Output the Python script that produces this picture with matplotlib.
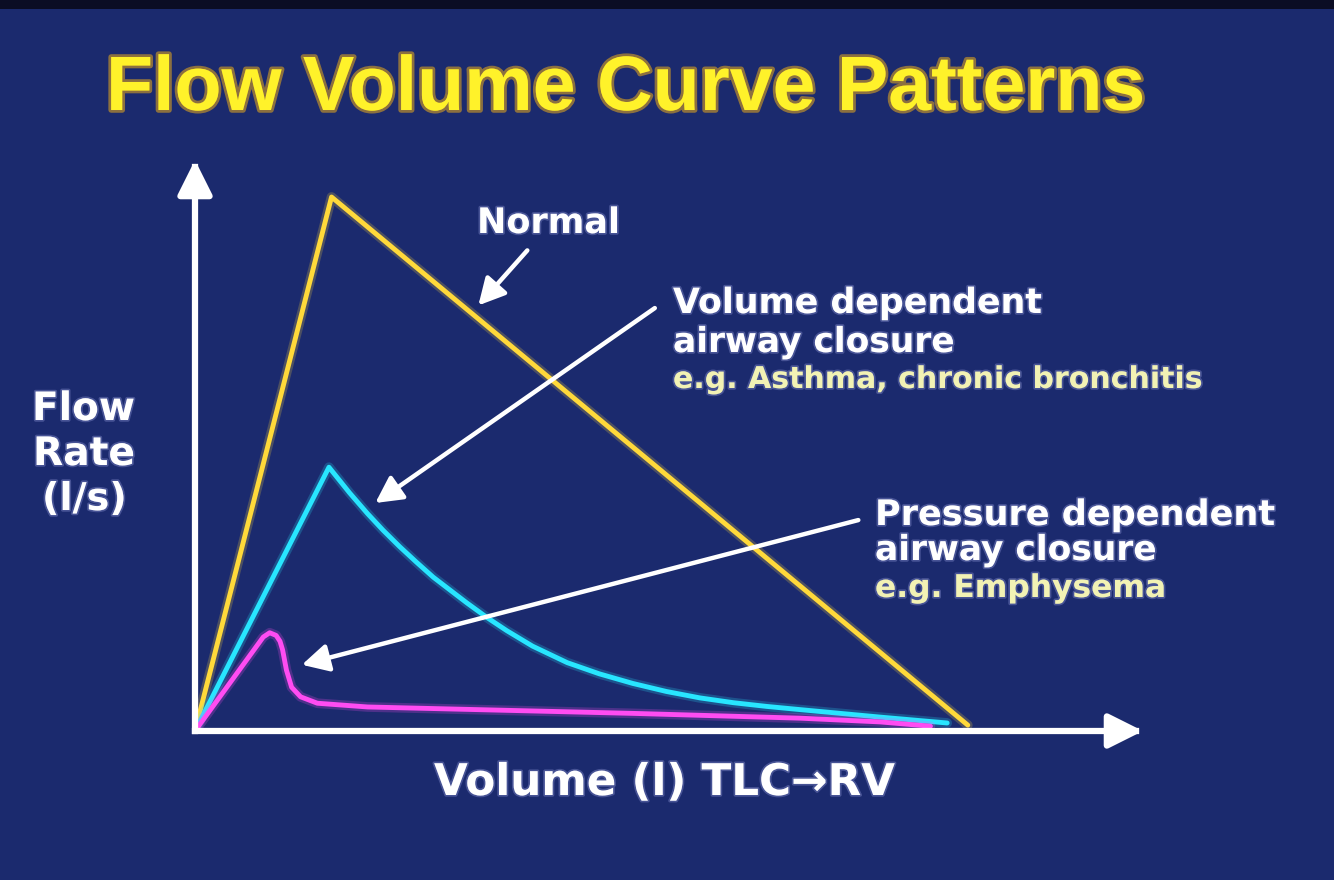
import matplotlib
matplotlib.use("Agg")
import matplotlib.pyplot as plt
from matplotlib.patches import FancyArrowPatch, Rectangle
import matplotlib.patheffects as pe

W, H = 1334, 880
BG = "#1b2a6e"

# ---- data (volume in litres, flow in l/s) ----
normal_vol = [0.0, 1.06, 6.0]
normal_flow = [0.0, 10.0, 0.11]

vdep_vol = [0.0, 1.04, 1.20, 1.34, 1.46, 1.59, 1.72, 1.85, 1.98, 2.11, 2.27, 2.42, 2.62,
            2.89, 3.14, 3.40, 3.66, 3.92, 4.18, 4.44, 4.70, 5.32, 5.84]
vdep_flow = [0.0, 4.94, 4.46, 4.07, 3.76, 3.45, 3.16, 2.88, 2.64, 2.40, 2.12, 1.88, 1.59,
             1.28, 1.07, 0.89, 0.74, 0.62, 0.53, 0.46, 0.40, 0.26, 0.15]

pdep_vol = [0.0, 0.53, 0.58, 0.63, 0.66, 0.68, 0.71, 0.75, 0.82, 0.95, 1.34, 2.37,
            3.40, 4.70, 5.32, 5.71]
pdep_flow = [0.0, 1.76, 1.84, 1.79, 1.68, 1.52, 1.14, 0.82, 0.64, 0.52, 0.45, 0.39,
             0.33, 0.24, 0.17, 0.09]

title = "Flow Volume Curve Patterns"
ylabel_lines = ["Flow", "Rate", "(l/s)"]
xlabel = "Volume (l) TLC\u2192RV"
lab_normal = "Normal"
lab_vdep = ["Volume dependent", "airway closure"]
lab_vdep_eg = "e.g. Asthma, chronic bronchitis"
lab_pdep = ["Pressure dependent", "airway closure"]
lab_pdep_eg = "e.g. Emphysema"

# arrow (tail, head) in data units
arr_normal = ((2.58, 9.0), (2.20, 7.97))
arr_vdep = ((3.57, 7.92), (1.40, 4.27))
arr_pdep = ((5.15, 3.95), (0.83, 1.24))

plt.rcParams["font.family"] = ["DejaVu Sans"]

fig = plt.figure(figsize=(W / 100, H / 100), dpi=100, facecolor=BG)
fig.patches.append(Rectangle((0, 1 - 9 / H), 1, 9 / H, transform=fig.transFigure,
                             facecolor="#0b0d24", edgecolor="none", zorder=0))

# axes: origin at pixel (195, 731)
ox, oy = 195, 731
xpx, ypx = 128.8, 53.4          # pixels per unit
x_right, y_top = 1143, 160
ax = fig.add_axes([ox / W, 1 - oy / H, (x_right - ox) / W, (oy - y_top) / H])
ax.set_xlim(0, (x_right - ox) / xpx)
ax.set_ylim(0, (oy - y_top) / ypx)
ax.set_facecolor("none")
ax.axis("off")

glow = lambda c: [pe.Stroke(linewidth=7, foreground=c, alpha=0.22), pe.Normal()]

ax.plot(normal_vol, normal_flow, color="#ffd93a", lw=3.5, solid_joinstyle="round",
        solid_capstyle="round", path_effects=glow("#ffd93a"), zorder=3)
ax.plot(vdep_vol, vdep_flow, color="#28e6ff", lw=3.5, solid_joinstyle="round",
        solid_capstyle="round", path_effects=glow("#28e6ff"), zorder=3)
ax.plot(pdep_vol, pdep_flow, color="#ff4cf2", lw=3.5, solid_joinstyle="round",
        solid_capstyle="round", path_effects=glow("#ff4cf2"), zorder=3)

# axis arrows
xmax = ax.get_xlim()[1]
ymax = ax.get_ylim()[1]
for tail, head in [((0, 0), (xmax, 0)), ((0, 0), (0, ymax))]:
    ax.add_patch(FancyArrowPatch(tail, head, arrowstyle="-|>,head_length=1.0,head_width=0.5",
                                 mutation_scale=21, color="white", lw=4.5,
                                 shrinkA=0, shrinkB=0, capstyle="projecting", zorder=4,
                                 clip_on=False))

# annotation arrows
for tail, head in [arr_normal, arr_vdep, arr_pdep]:
    ax.add_patch(FancyArrowPatch(tail, head, arrowstyle="-|>,head_length=0.8,head_width=0.42",
                                 mutation_scale=20, color="white", lw=3.2,
                                 shrinkA=0, shrinkB=0, zorder=5, clip_on=False))

renderer = fig.canvas.get_renderer()

def fx(px):
    return px / W

def fy(py):
    return 1 - py / H

txt_glow = [pe.withStroke(linewidth=2.5, foreground="#9aa0e0", alpha=0.35)]

def fit_text(s, x0, x1, base, color="white", family=("DejaVu Sans",), effects=txt_glow):
    t = fig.text(fx(x0), fy(base), s, color=color, fontsize=20, fontweight="bold",
                 family=list(family), ha="left", va="baseline", path_effects=effects)
    w = t.get_window_extent(renderer).width
    t.set_fontsize(20 * (x1 - x0) / w)
    return t

fit_text(title, 106, 1145, 110, color="#fff22a", family=("Liberation Sans", "DejaVu Sans"),
         effects=[pe.withStroke(linewidth=4, foreground="#d9a020", alpha=0.6)])

for s, x0, x1, base in zip(ylabel_lines, [32, 33, 42], [135, 135, 127], [420, 465, 510]):
    fit_text(s, x0, x1, base)

fit_text(xlabel, 434, 895, 795)
fit_text(lab_normal, 477, 620, 233)

fit_text(lab_vdep[0], 673, 1042, 313)
fit_text(lab_vdep[1], 673, 955, 352)
fit_text(lab_vdep_eg, 673, 1203, 388, color="#f2f2b4")

fit_text(lab_pdep[0], 875, 1275, 525)
fit_text(lab_pdep[1], 875, 1157, 560)
fit_text(lab_pdep_eg, 875, 1166, 597, color="#f2f2b4")

fig.savefig("out.png", dpi=100, facecolor=BG)
